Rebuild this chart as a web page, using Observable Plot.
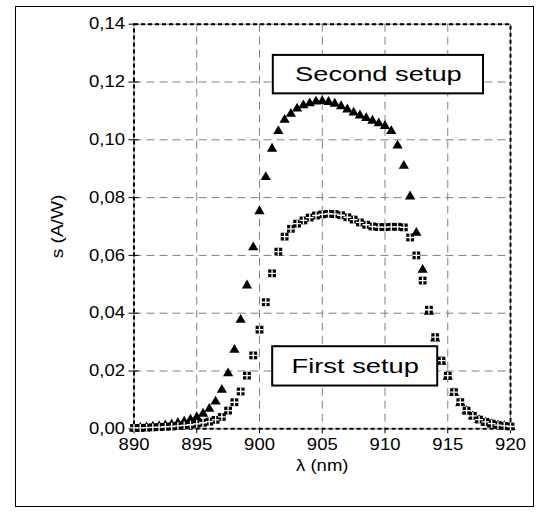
<!DOCTYPE html>
<html><head><meta charset="utf-8">
<script src="https://cdn.jsdelivr.net/npm/d3@7"></script>
<script src="https://cdn.jsdelivr.net/npm/@observablehq/plot@0.6"></script>
<style>
body{margin:0;background:#fff;}
#wrap{position:relative;width:549px;height:519px;}
#border{position:absolute;left:15px;top:6px;width:519px;height:501px;border:1.5px solid #000;box-sizing:border-box;pointer-events:none;}
</style></head><body><div id="wrap"><div id="border"></div></div>
<script>
const wavelength = [890, 890.5, 891, 891.5, 892, 892.5, 893, 893.5, 894, 894.5,
  895, 895.5, 896, 896.5, 897, 897.5, 898, 898.5, 899, 899.5,
  900, 900.5, 901, 901.5, 902, 902.5, 903, 903.5, 904, 904.5,
  905, 905.5, 906, 906.5, 907, 907.5, 908, 908.5, 909, 909.5,
  910, 910.5, 911, 911.5, 912, 912.5, 913, 913.5, 914, 914.5,
  915, 915.5, 916, 916.5, 917, 917.5, 918, 918.5, 919, 919.5, 920];
const secondSetup = [0.0002, 0.0003, 0.0005, 0.0007, 0.0009, 0.0012, 0.0015, 0.0020, 0.0025, 0.0032,
  0.0040, 0.0052, 0.0069, 0.0094, 0.0135, 0.0192, 0.0273, 0.0377, 0.0496, 0.0628,
  0.0753, 0.0871, 0.0969, 0.1030, 0.1069, 0.1090, 0.1108, 0.1119, 0.1126, 0.1132,
  0.1134, 0.1131, 0.1125, 0.1116, 0.1105, 0.1094, 0.1084, 0.1075, 0.1066, 0.1057,
  0.1048, 0.1030, 0.0980, 0.0910, 0.0804, 0.0678, 0.0550, 0.0405, 0.0312, 0.0232,
  0.0180, 0.0124, 0.0089, 0.0061, 0.0043, 0.0030, 0.0022, 0.0016, 0.0012, 0.0009, 0.0006];
const firstSetup = [0.0003, 0.0003, 0.0004, 0.0005, 0.0006, 0.0007, 0.0008, 0.0010, 0.0012, 0.0014,
  0.0017, 0.0021, 0.0025, 0.0031, 0.0041, 0.0063, 0.0092, 0.0129, 0.0184, 0.0254,
  0.0343, 0.0438, 0.0538, 0.0613, 0.0665, 0.0692, 0.0710, 0.0721, 0.0731, 0.0738,
  0.0742, 0.0744, 0.0743, 0.0739, 0.0732, 0.0724, 0.0714, 0.0706, 0.0700, 0.0698,
  0.0698, 0.0699, 0.0699, 0.0697, 0.0662, 0.0600, 0.0513, 0.0412, 0.0317, 0.0236,
  0.0184, 0.0127, 0.0092, 0.0063, 0.0045, 0.0032, 0.0024, 0.0018, 0.0013, 0.0010, 0.0008];
const xTicks = [890, 895, 900, 905, 910, 915, 920];
const yTicks = [0, 0.02, 0.04, 0.06, 0.08, 0.10, 0.12, 0.14];
const seriesNames = ["Second setup", "First setup"];
const xLabel = "λ (nm)";
const yLabel = "s (A/W)";

// annotation box placement (in data units)
const boxX1 = [901.1, 901.05];
const boxX2 = [917.85, 914.2];
const boxY1 = [0.1159, 0.0148];
const boxY2 = [0.1292, 0.0284];

const rows = wavelength.map((w, i) => ({w, s1: firstSetup[i], s2: secondSetup[i]}));
const boxes = seriesNames.map((t, i) => ({t, x1: boxX1[i], x2: boxX2[i], y1: boxY1[i], y2: boxY2[i]}));

const fmt = d => d3.format(".2f")(d).replace(".", ",");

const crossSymbol = {
  draw(ctx, size) {
    const a = Math.sqrt(size) / 2, w = a * 0.17;
    ctx.moveTo(-w, -a); ctx.lineTo(w, -a); ctx.lineTo(w, -w); ctx.lineTo(a, -w);
    ctx.lineTo(a, w); ctx.lineTo(w, w); ctx.lineTo(w, a); ctx.lineTo(-w, a);
    ctx.lineTo(-w, w); ctx.lineTo(-a, w); ctx.lineTo(-a, -w); ctx.lineTo(-w, -w);
    ctx.closePath();
  }
};

const plot = Plot.plot({
  width: 549, height: 519,
  marginLeft: 133.5, marginRight: 39, marginTop: 23.7, marginBottom: 90.7,
  style: {fontFamily: "Arial, 'Liberation Sans', sans-serif", fontSize: "16.5px", color: "#000", background: "transparent", overflow: "visible"},
  x: {domain: [890, 920]},
  y: {domain: [0, 0.14]},
  marks: [
    Plot.gridX(xTicks.slice(1, -1), {stroke: "#808080", strokeOpacity: 1, strokeDasharray: "8,5"}),
    Plot.gridY(yTicks.slice(1, -1), {stroke: "#808080", strokeOpacity: 1, strokeDasharray: "8,5"}),
    Plot.frame({stroke: "#888", strokeWidth: 1}),
    Plot.frame({stroke: "#000", strokeWidth: 2, strokeDasharray: "4,3"}),
    Plot.axisX(xTicks, {tickSize: 5, tickPadding: 4, tickFormat: d => String(d), label: null}),
    Plot.axisY(yTicks, {tickSize: 10, dx: 5, tickPadding: 4, tickFormat: fmt, label: null}),
    Plot.text([yLabel], {frameAnchor: "left", dx: -76, rotate: -90, textAnchor: "middle", text: d => d, fontSize: 17}),
    Plot.text([xLabel], {frameAnchor: "bottom", dy: 42, text: d => d, fontSize: 16.5}),
    Plot.dot(rows, {x: "w", y: "s2", symbol: "triangle", r: 3.8, fill: "#000"}),
    Plot.dot(rows, {x: "w", y: "s1", symbol: "square", r: 4.4, fill: "#000"}),
    Plot.dot(rows, {x: "w", y: "s1", symbol: crossSymbol, r: 4.4, fill: "#fff"}),
    Plot.rect(boxes, {x1: "x1", x2: "x2", y1: "y1", y2: "y2", fill: "#fff", stroke: "#000", strokeWidth: 2}),
    Plot.text(boxes, {x: d => (d.x1 + d.x2) / 2, y: d => (d.y1 + d.y2) / 2, text: "t", fontSize: 20.5})
  ]
});
document.getElementById("wrap").prepend(plot);

// horizontally stretch text like the reference rendering
const textGroups = plot.querySelectorAll('g[aria-label="text"]');
plot.querySelectorAll("text").forEach(t => {
  const isBox = t.parentNode === textGroups[textGroups.length - 1];
  const k = isBox ? 1.33 : 1.12;
  const len = t.getComputedTextLength();
  if (len > 0) {
    t.setAttribute("textLength", (len * k).toFixed(1));
    t.setAttribute("lengthAdjust", "spacingAndGlyphs");
  }
});
</script>
</body></html>
